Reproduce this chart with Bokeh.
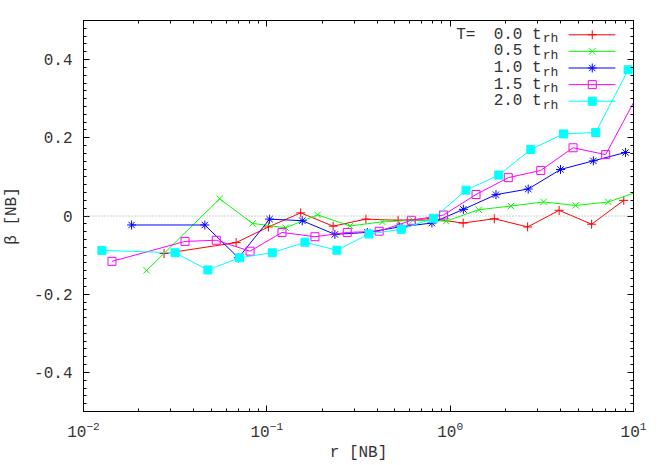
import numpy as np
from bokeh.plotting import figure
from bokeh.models import (LogAxis, LinearAxis, FixedTicker, LogTicker, Span, Label,
                          CustomJSTickFormatter)
from bokeh.embed import file_html
from bokeh.resources import INLINE

# ---------------- data ----------------
r_00 = [0.0275, 0.068, 0.102, 0.153, 0.230, 0.347, 0.52, 0.789, 1.177, 1.741, 2.645, 3.93, 5.91, 8.85]
b_00 = [-0.096, -0.068, -0.028, 0.008, -0.026, -0.008, -0.011, -0.007, -0.018, -0.007, -0.028, 0.0145, -0.021, 0.040]

r_05 = [0.0221, 0.0553, 0.0836, 0.1268, 0.189, 0.284, 0.427, 0.627, 0.951, 1.432, 2.146, 3.23, 4.84, 7.29, 10.9]
b_05 = [-0.139, 0.044, -0.019, -0.030, 0.003, -0.0255, -0.015, -0.011, -0.013, 0.016, 0.0255, 0.036, 0.027, 0.036, 0.064]

r_10 = [0.0183, 0.0459, 0.070, 0.1035, 0.156, 0.235, 0.353, 0.53, 0.795, 1.18, 1.778, 2.665, 4.0, 6.04, 9.05]
b_10 = [-0.023, -0.023, -0.107, -0.008, -0.012, -0.047, -0.042, -0.028, -0.018, 0.017, 0.0546, 0.069, 0.119, 0.141, 0.1625]

r_15 = [0.0143, 0.0358, 0.053, 0.081, 0.121, 0.183, 0.2746, 0.41, 0.614, 0.92, 1.384, 2.075, 3.12, 4.68, 7.05, 10.57]
b_15 = [-0.116, -0.065, -0.062, -0.090, -0.042, -0.053, -0.042, -0.039, -0.011, 0.0025, 0.055, 0.098, 0.1166, 0.1745, 0.157, 0.311]

r_20 = [0.0126, 0.0316, 0.0477, 0.071, 0.107, 0.1614, 0.241, 0.361, 0.5416, 0.811, 1.22, 1.84, 2.754, 4.15, 6.22, 9.35]
b_20 = [-0.088, -0.094, -0.138, -0.107, -0.094, -0.067, -0.0875, -0.046, -0.034, -0.006, 0.066, 0.1046, 0.170, 0.210, 0.2135, 0.374]

series_values = ["0.0", "0.5", "1.0", "1.5", "2.0"]
series_r = [r_00, r_05, r_10, r_15, r_20]
series_b = [b_00, b_05, b_10, b_15, b_20]
colors = ["#ff0000", "#00ff00", "#0000ff", "#ff00ff", "#00ffff"]
markers = ["cross", "x", "asterisk", "square", "square"]
fills = [None, None, None, None, "#00ffff"]
legend_title = "T="
legend_unit = "t"
legend_sub = "rh"

y_ticks = [-0.4, -0.2, 0, 0.2, 0.4]
y_tick_labels = ["-0.4", "-0.2", "0", "0.2", "0.4"]
x_range = (0.01, 10)
y_range = (-0.5, 0.5)

FONT = "Liberation Mono"
FS = "16px"

p = figure(width=664, height=465, x_axis_type="log",
           x_range=x_range, y_range=y_range,
           output_backend="svg", toolbar_location=None,
           min_border_left=81, min_border_right=31,
           min_border_top=20, min_border_bottom=54)
p.xgrid.visible = False
p.ygrid.visible = False
p.outline_line_color = "black"
p.outline_line_width = 1
p.background_fill_color = "white"
p.border_fill_color = "white"

y_minor = [round(v, 2) for v in np.arange(-0.5, 0.501, 0.02)]
yticker = FixedTicker(ticks=y_ticks, minor_ticks=y_minor)
xticker = LogTicker(num_minor_ticks=10)

def style_axis(ax):
    ax.axis_line_color = "black"
    ax.major_tick_in = 6
    ax.major_tick_out = 0
    ax.minor_tick_in = 3
    ax.minor_tick_out = 0
    ax.major_tick_line_color = "black"
    ax.minor_tick_line_color = "black"
    ax.major_label_text_font = FONT
    ax.major_label_text_font_size = FS
    ax.major_label_text_color = "#333333"
    ax.axis_label_text_font = FONT
    ax.axis_label_text_font_size = FS
    ax.axis_label_text_font_style = "normal"
    ax.axis_label_text_color = "#333333"

# bottom axis
xa = p.xaxis[0]
xa.ticker = xticker
style_axis(xa)
xa.major_label_standoff = 9
xa.axis_label = "r [NB]"
xa.axis_label_standoff = 4

# left axis
ya = p.yaxis[0]
ya.ticker = yticker
ya.major_label_overrides = {t: l for t, l in zip(y_ticks, y_tick_labels)}
style_axis(ya)
ya.major_label_standoff = 11
ya.axis_label = "β [NB]"
ya.axis_label_standoff = 10

# mirrored axes (ticks only)
blank = CustomJSTickFormatter(code="return ''")
top = LogAxis(ticker=LogTicker(num_minor_ticks=10), formatter=blank)
style_axis(top)
top.major_label_standoff = 0
p.add_layout(top, "above")
right = LinearAxis(ticker=FixedTicker(ticks=y_ticks, minor_ticks=y_minor), formatter=blank)
style_axis(right)
right.major_label_standoff = 0
p.add_layout(right, "right")

# zero line
p.add_layout(Span(location=0, dimension="width", line_color="#a0a0a0",
                  line_dash="1 2", line_width=1))

# data
for r, b, c, m, f in zip(series_r, series_b, colors, markers, fills):
    p.line(r, b, line_color=c, line_width=1)
    p.scatter(r, b, marker=m, size=8 if m == "square" else 9,
              line_color=c, fill_color=f, line_width=1)

# ---- legend (gnuplot style: text left, sample right) ----
lx0, lx1 = np.log10(x_range[0]), np.log10(x_range[1])
def fx(f):
    return 10 ** (lx0 + f * (lx1 - lx0))
def fy(f):
    return y_range[0] + f * (y_range[1] - y_range[0])

row0 = 0.9635
dy = 0.0425
p.add_layout(Label(x=fx(0.6775), y=fy(row0), text=legend_title,
                   text_font=FONT, text_font_size=FS, text_color="#333333",
                   text_baseline="middle", text_align="left"))
for i, (sv, c, m, f) in enumerate(zip(series_values, colors, markers, fills)):
    yy = fy(row0 - i * dy)
    p.add_layout(Label(x=fx(0.833), y=yy, text=f"{sv} {legend_unit}",
                       text_font=FONT, text_font_size=FS, text_color="#333333",
                       text_baseline="middle", text_align="right"))
    p.add_layout(Label(x=fx(0.835), y=yy, y_offset=-4, text=legend_sub,
                       text_font=FONT, text_font_size="13px", text_color="#333333",
                       text_baseline="middle", text_align="left"))
    p.line([fx(0.882), fx(0.967)], [yy, yy], line_color=c, line_width=1)
    p.scatter([fx(0.925)], [yy], marker=m, size=8 if m == "square" else 9,
              line_color=c, fill_color=f, line_width=1)

open("out.html", "w").write(file_html(p, INLINE))
